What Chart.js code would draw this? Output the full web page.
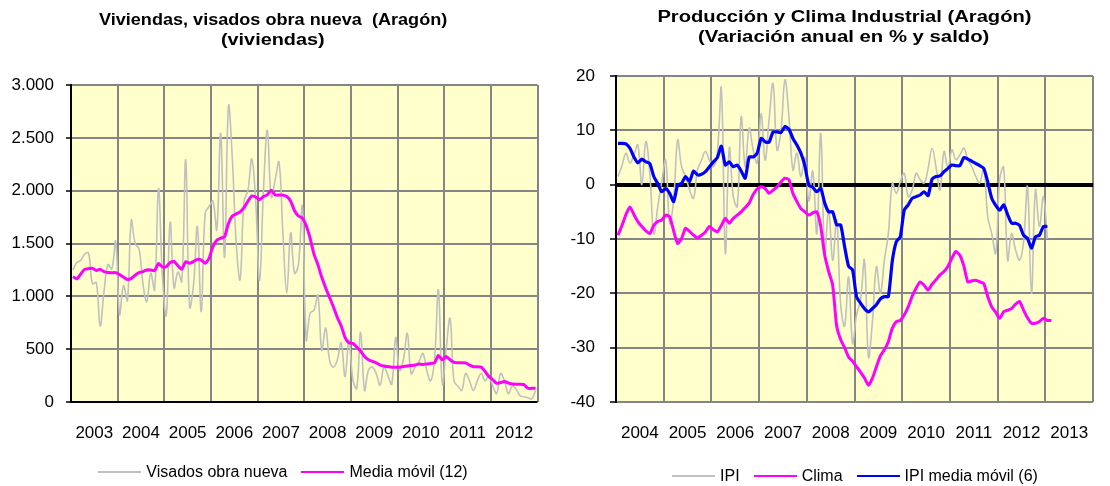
<!DOCTYPE html>
<html>
<head>
<meta charset="utf-8">
<script src="https://cdn.jsdelivr.net/npm/chart.js@4.4.1/dist/chart.umd.min.js"></script>
<style>
body { margin: 0; background: #fff; font-family: "Liberation Sans", Arial, sans-serif; }
#wrap { position: relative; width: 1110px; height: 486px; overflow: hidden; }
canvas { position: absolute; top: 0; }
.title { position: absolute; width: 600px; text-align: center; font-weight: bold; font-size: 16px; line-height: 20px; color: #000; }
.title span { display: inline-block; white-space: pre; transform-origin: center; }
.legend { position: absolute; width: 600px; display: flex; justify-content: center; align-items: center; font-size: 16px; line-height: 18px; color: #000; white-space: nowrap; }
.legend .item { display: flex; align-items: center; margin: 0 7px; }
.legend .line { display: inline-block; width: 43px; border-top: 2px solid; margin-right: 5px; }
</style>
</head>
<body>
<div id="wrap">
  <canvas id="viviendasChart" width="555" height="486" style="left:0"></canvas>
  <canvas id="ipiChart" width="555" height="486" style="left:555px"></canvas>

  <div class="title" style="left:-27px; top:10px">
    <div><span style="transform:scaleX(1.13)">Viviendas, visados obra nueva  (Aragón)</span></div>
    <div><span style="transform:scaleX(1.24)">(viviendas)</span></div>
  </div>
  <div class="title" style="left:544px; top:7px">
    <div><span style="transform:scaleX(1.26)">Producción y Clima Industrial (Aragón)</span></div>
    <div><span style="transform:scaleX(1.27)">(Variación anual en % y saldo)</span></div>
  </div>

  <div class="legend" style="left:-17px; top:463px">
    <span class="item"><span class="line" style="border-color:#c0c0c0"></span>Visados obra nueva</span>
    <span class="item"><span class="line" style="border-color:#ff00ff"></span>Media móvil (12)</span>
  </div>
  <div class="legend" style="left:555px; top:467px">
    <span class="item"><span class="line" style="border-color:#c0c0c0"></span>IPI</span>
    <span class="item"><span class="line" style="border-color:#ff00ff"></span>Clima</span>
    <span class="item"><span class="line" style="border-color:#0000ff"></span>IPI media móvil (6)</span>
  </div>
</div>

<script>
// Left chart: monthly 2003-2012
const viviendasYears = ["2003", "2004", "2005", "2006", "2007", "2008", "2009", "2010", "2011", "2012"];
const visados = [
    1250, 1320, 1340, 1400, 1410, 1120, 1130, 720, 1050, 1300, 1260, 1520,
    830, 1100, 960, 1720, 1500, 1450, 1120, 950, 1220, 1060, 2020, 1200,
    820, 1700, 1080, 1230, 1140, 2290, 900, 1100, 1660, 855, 1785, 1850,
    1900, 1630, 2540, 1370, 2800, 2300, 1500, 1160, 1900, 2000, 2300, 1900,
    1150, 2000, 2570, 1940, 2100, 2270, 1600, 1030, 1600, 1220, 1300, 1850,
    590, 840, 870, 1010, 490, 700, 400, 330, 400, 560, 240, 590,
    210, 130, 660, 110, 300, 330, 270, 160, 330, 250, 170, 610,
    300, 400, 650, 270, 330, 380, 460, 300, 200, 400, 1060, 170,
    500, 790, 200, 150, 110, 270, 200, 110, 200, 270, 200, 240,
    150, 80, 270, 200, 80, 150, 120, 60, 50, 40, 30, 110
];
const mediaMovil12 = [
    1186, 1165, 1210, 1255, 1262, 1265, 1245, 1256, 1234, 1226, 1224, 1224,
    1205, 1182, 1160, 1170, 1200, 1224, 1234, 1250, 1250, 1243, 1310, 1278,
    1280, 1320, 1330, 1290, 1256, 1328, 1312, 1330, 1350, 1344, 1312, 1360,
    1470, 1530, 1550, 1565, 1690, 1760, 1780, 1800, 1840, 1900, 1950, 1940,
    1915, 1945, 1960, 2005, 1960, 1958, 1958, 1945, 1900, 1810, 1760, 1740,
    1670, 1550, 1400, 1300, 1180, 1080, 990, 900, 800, 720, 610, 560,
    555, 520, 480, 430, 400, 385, 370, 350, 340, 335, 330, 330,
    330, 335, 340, 345, 350, 360, 355, 360, 365, 370, 440, 400,
    430, 400, 375, 372, 372, 370, 350, 334, 334, 330, 290, 240,
    210, 177, 185, 193, 180, 170, 168, 168, 165, 130, 129, 129
];

// Right chart: monthly 2004-2013
const ipiYears = ["2004", "2005", "2006", "2007", "2008", "2009", "2010", "2011", "2012", "2013"];
const ipi = [
    1.5, 3.5, 5.8, 4.0, 5.5, 7.3, 0.0, 7.9, 2.1, -9.0, -4.1, 0.5,
    4.5, -7.1, -2.8, 8.2, 3.3, 1.5, -1.0, -2.5, 2.7, 4.5, 6.1, 4.5,
    3.3, 6.0, 17.7, -12.6, 6.7, -2.2, -4.0, 12.5, 3.3, 10.4, 6.4, 4.0,
    13.1, 4.5, 12.0, 18.6, 6.4, 10.0, 19.3, 12.5, 2.7, 5.8, 1.5, 5.0,
    -3.0, 2.5, -9.0, 9.4, -12.6, -4.7, -13.9, -6.5, -22.0, -26.0, -17.0, -29.2,
    -24.0, -21.2, -13.9, -31.7, -25.2, -15.1, -20.0, -13.9, -9.0, 0.3, -1.6, 0.5,
    2.1, -2.2, -1.0, 2.1, 0.9, 0.3, 3.0, 6.7, 3.2, -1.0, 6.1, 3.2,
    6.4, 4.6, 5.5, 6.7, 4.6, 3.3, 1.5, 0.3, 3.2, -5.9, -9.0, -12.6,
    0.9, 3.2, -13.9, -9.0, -12.0, -13.9, -10.6, -0.4, -20.0, -1.0, -7.7, -2.2,
    -10.0
];
const clima = [
    -9.3, -7.5, -5.5, -4.1, -5.5, -6.8, -7.7, -8.5, -9.0, -7.5, -6.8, -6.5,
    -5.6, -5.9, -8.5, -10.8, -9.9, -8.0, -8.6, -9.3, -9.8, -9.3, -8.7, -7.7,
    -8.3, -8.7, -7.5, -6.2, -7.1, -6.2, -5.6, -5.0, -4.2, -3.4, -1.8, -0.8,
    -0.4, -0.7, -1.6, -1.0, -0.4, 0.5, 1.2, 0.9, -1.6, -3.1, -4.4, -5.0,
    -5.6, -5.2, -5.0, -7.7, -13.0, -16.0, -18.5, -26.0, -28.5, -30.0, -31.7, -32.5,
    -33.5, -34.5, -35.6, -36.9, -35.6, -33.5, -31.5, -30.4, -28.9, -26.4, -25.2, -25.0,
    -24.0, -22.5, -20.5, -19.0, -17.9, -18.5, -19.4, -18.3, -17.5, -16.6, -16.0, -15.0,
    -13.5, -12.3, -13.0, -15.0, -17.9, -17.7, -17.6, -17.9, -18.2, -20.6, -22.5, -23.5,
    -24.6, -23.4, -23.1, -22.8, -22.0, -21.5, -23.1, -24.5, -25.5, -25.5, -25.2, -24.6,
    -25.0, -25.0
];
const ipiMedia6 = [
    7.6, 7.6, 7.5, 6.7, 5.1, 4.0, 4.7, 4.2, 3.9, 1.5, 0.2, -1.3,
    -0.7, -1.6, -3.1, -0.1, 0.25, 1.5, 0.6, 2.5, 1.8, 1.9, 2.4, 3.3,
    4.2, 5.0, 7.1, 3.6, 4.2, 3.3, 3.6, 2.5, 1.2, 5.1, 5.1, 5.8,
    8.5, 7.9, 7.8, 9.7, 9.7, 9.6, 10.7, 10.2, 8.5, 7.3, 5.8, 3.5,
    -0.1, -0.5, -1.3, -0.7, -3.4, -5.0, -5.0, -7.4, -7.4, -11.4, -15.0, -15.7,
    -20.6, -21.8, -22.8, -23.4, -22.8, -22.1, -21.0, -20.6, -20.6, -14.0, -10.5, -9.6,
    -4.7, -3.7, -2.5, -2.2, -1.9, -1.3, -2.0, 1.0, 1.5, 1.6, 2.4, 3.0,
    3.6, 3.5, 3.5, 5.0, 4.7, 4.3, 3.9, 3.5, 3.0, 0.5, -2.5, -3.8,
    -4.7, -3.7, -5.5, -7.1, -7.1, -7.5, -9.3, -9.9, -11.7, -9.6, -9.3, -7.7,
    -7.7
];

// one point per month, centred inside its month slot
const toPoints = arr => arr.map((v, i) => ({ x: i + 0.5, y: v }));

const plotBg = {
    id: "plotBg",
    beforeDraw(chart) {
        const a = chart.chartArea;
        const ctx = chart.ctx;
        ctx.save();
        ctx.fillStyle = "#ffffcc";
        ctx.fillRect(a.left, a.top, a.right - a.left, a.bottom - a.top);
        ctx.restore();
    }
};

const tickFont = { family: "'Liberation Sans', Arial, sans-serif", size: 17 };
const gridGray = "#858585";

function yearAxes(years) {
    return {
        x: {
            type: "linear", min: 0, max: 120, weight: 0,
            ticks: { stepSize: 12, display: false },
            grid: {
                color: c => c.tick.value === 0 ? "#000" : gridGray,
                lineWidth: 2,
                drawTicks: false
            },
            border: { display: false },
            afterFit: s => { s.height = 0; }
        },
        xl: {
            type: "linear", min: 0, max: 120, position: "bottom", weight: 1,
            afterBuildTicks: s => { s.ticks = years.map((y, i) => ({ value: i * 12 + 6 })); },
            ticks: {
                autoSkip: false, maxRotation: 0, padding: 21,
                color: "#000", font: tickFont,
                callback: v => years[Math.round((v - 6) / 12)]
            },
            grid: { display: false, drawTicks: false },
            border: { display: false },
            afterFit: s => { s.height = 40; }
        }
    };
}

// Viviendas chart
const vivCtx = document.getElementById("viviendasChart").getContext("2d");
new Chart(vivCtx, {
    type: "line",
    data: {
        datasets: [{
            label: "Visados obra nueva",
            data: toPoints(visados),
            borderColor: "#c0c0c0",
            borderWidth: 1.6,
            tension: 0.4,
            pointRadius: 0,
            order: 2,
            xAxisID: "x", yAxisID: "y"
        }, {
            label: "Media móvil (12)",
            data: toPoints(mediaMovil12),
            borderColor: "#ff00ff",
            borderWidth: 3,
            tension: 0.2,
            pointRadius: 0,
            order: 1,
            xAxisID: "x", yAxisID: "y"
        }]
    },
    options: {
        responsive: false,
        animation: false,
        layout: { padding: { left: 0, right: 17, top: 85, bottom: 44 } },
        plugins: { legend: { display: false }, tooltip: { enabled: false } },
        scales: Object.assign(yearAxes(viviendasYears), {
            y: {
                min: 0, max: 3000,
                ticks: {
                    stepSize: 500, padding: 12, color: "#000", font: tickFont,
                    callback: v => String(v).replace(/\B(?=(\d{3})+(?!\d))/g, ".")
                },
                grid: {
                    color: c => c.tick.value === 0 ? "#000" : gridGray,
                    lineWidth: 2,
                    tickColor: "#000", tickLength: 5, tickWidth: 1.5
                },
                border: { color: "#000", width: 2 },
                afterFit: s => { s.width = 71; }
            }
        })
    },
    plugins: [plotBg]
});

// Produccion y clima chart
const ipiCtx = document.getElementById("ipiChart").getContext("2d");
new Chart(ipiCtx, {
    type: "line",
    data: {
        datasets: [{
            label: "IPI",
            data: toPoints(ipi),
            borderColor: "#c0c0c0",
            borderWidth: 1.6,
            tension: 0.4,
            pointRadius: 0,
            order: 3,
            xAxisID: "x", yAxisID: "y"
        }, {
            label: "Clima",
            data: toPoints(clima),
            borderColor: "#ff00ff",
            borderWidth: 3,
            tension: 0.2,
            pointRadius: 0,
            order: 2,
            xAxisID: "x", yAxisID: "y"
        }, {
            label: "IPI media móvil (6)",
            data: toPoints(ipiMedia6),
            borderColor: "#0000ff",
            borderWidth: 3.2,
            tension: 0.2,
            pointRadius: 0,
            order: 1,
            xAxisID: "x", yAxisID: "y"
        }]
    },
    options: {
        responsive: false,
        animation: false,
        layout: { padding: { left: 0, right: 2, top: 76, bottom: 44 } },
        plugins: { legend: { display: false }, tooltip: { enabled: false } },
        scales: Object.assign(yearAxes(ipiYears), {
            y: {
                min: -40, max: 20,
                ticks: { stepSize: 10, padding: 15, color: "#000", font: tickFont },
                grid: {
                    color: c => c.tick.value === 0 ? "#000" : gridGray,
                    lineWidth: c => c.tick.value === 0 ? 4 : 2,
                    tickColor: "#000", tickLength: 6, tickWidth: 1.5
                },
                border: { color: "#000", width: 2 },
                afterFit: s => { s.width = 61; }
            }
        })
    },
    plugins: [plotBg]
});
</script>
</body>
</html>
